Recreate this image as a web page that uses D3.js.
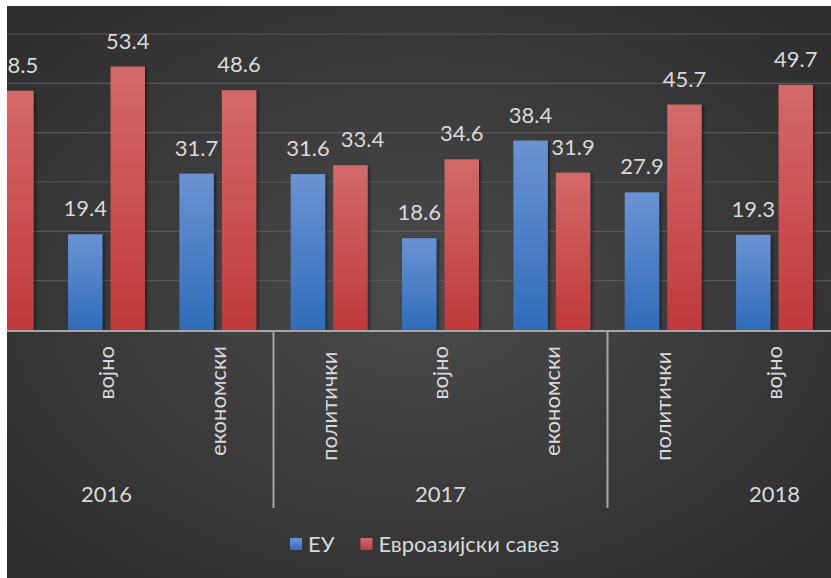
<!DOCTYPE html>
<html>
<head>
<meta charset="utf-8">
<script src="https://cdn.jsdelivr.net/npm/d3@7"></script>
<style>
  body { margin: 0; background: #fff; }
  text { font-family: Lato, "Open Sans", sans-serif; fill: #d9d9d9; }
</style>
</head>
<body>
<div id="chart"></div>
<script>
// chart is a crop of a wider Excel chart: first and last slots are mostly off the frame
const years = ["2016", "2017", "2018"];
const kinds = ["политички", "војно", "економски"];
const series = ["ЕУ", "Евроазијски савез"];
// values per year, in kinds order (null = not visible in the picture)
const euValues = [[null, 19.4, 31.7], [31.6, 18.6, 38.4], [27.9, 19.3, null]];
const eaValues = [[48.5, 53.4, 48.6], [33.4, 34.6, 31.9], [45.7, 49.7, null]];
const yTicks = [0, 10, 20, 30, 40, 50, 60];

const W = 831, H = 578;
const frame = {x: 7, y: 6, w: W - 7, h: H - 6};
const colors = {
  "ЕУ": ["#6b93d3", "#2f6cb9"],
  "Евроазијски савез": ["#d4696a", "#c0393a"]
};
// one label was dragged aside in the original to avoid its neighbour
const labelShift = {"2017|политички|Евроазијски савез": 12};

const slots = [];
years.forEach((yr, i) => kinds.forEach((k, j) => {
  slots.push({key: yr + "|" + k, year: yr, kind: k,
    values: [euValues[i][j], eaValues[i][j]]});
}));

const svg = d3.select("#chart").append("svg")
  .attr("width", W).attr("height", H);

const defs = svg.append("defs");
const bg = defs.append("radialGradient").attr("id", "bg")
  .attr("cx", "50%").attr("cy", "50%").attr("r", "65%");
bg.append("stop").attr("offset", "0%").attr("stop-color", "#4a4a4a");
bg.append("stop").attr("offset", "100%").attr("stop-color", "#2e2e2e");

series.forEach((s, i) => {
  const g = defs.append("linearGradient").attr("id", "bar" + i)
    .attr("x1", 0).attr("y1", 0).attr("x2", 0).attr("y2", 1);
  g.append("stop").attr("offset", "0%").attr("stop-color", colors[s][0]);
  g.append("stop").attr("offset", "100%").attr("stop-color", colors[s][1]);
});

defs.append("filter").attr("id", "shadow")
  .attr("x", "-20%").attr("y", "-20%").attr("width", "150%").attr("height", "150%")
  .append("feDropShadow")
  .attr("dx", 2).attr("dy", 1).attr("stdDeviation", 1.5)
  .attr("flood-color", "#000").attr("flood-opacity", 0.45);

defs.append("clipPath").attr("id", "frame").append("rect")
  .attr("x", frame.x).attr("y", frame.y).attr("width", frame.w).attr("height", frame.h);

const root = svg.append("g").attr("clip-path", "url(#frame)");
root.append("rect")
  .attr("x", frame.x).attr("y", frame.y).attr("width", frame.w).attr("height", frame.h)
  .attr("fill", "url(#bg)");

// scales
const x0 = d3.scaleBand().domain(slots.map(d => d.key)).range([-60.5, 941.5]);
const x1 = d3.scaleBand().domain(series)
  .range([17.2, x0.bandwidth() - 17.2]).paddingInner(0.19);
const y = d3.scaleLinear().domain([0, 60]).range([330, 34]);

// gridlines
root.append("g").selectAll("line")
  .data(yTicks.filter(t => t > 0))
  .join("line")
  .attr("x1", frame.x).attr("x2", W)
  .attr("y1", d => y(d)).attr("y2", d => y(d))
  .attr("stroke", "#575757").attr("stroke-width", 1.2);

// bars
const slotG = root.append("g").selectAll("g")
  .data(slots)
  .join("g")
  .attr("transform", d => `translate(${x0(d.key)},0)`);

const cells = slotG.selectAll("g")
  .data(d => d.values.map((v, i) => ({slot: d, s: series[i], i: i, v: v}))
    .filter(c => c.v != null))
  .join("g");

cells.append("rect")
  .attr("x", c => x1(c.s))
  .attr("width", x1.bandwidth())
  .attr("y", c => y(c.v))
  .attr("height", c => y(0) - y(c.v))
  .attr("fill", c => `url(#bar${c.i})`)
  .attr("filter", "url(#shadow)");

cells.append("text")
  .attr("x", c => x1(c.s) + x1.bandwidth() / 2 + (labelShift[c.slot.key + "|" + c.s] || 0))
  .attr("y", c => y(c.v) - 18)
  .attr("text-anchor", "middle")
  .attr("font-size", 22)
  .text(c => c.v.toFixed(1));

// category axis
const axisY = y(0) + 1;
root.append("line")
  .attr("x1", frame.x).attr("x2", W)
  .attr("y1", axisY).attr("y2", axisY)
  .attr("stroke", "#a6a6a6").attr("stroke-width", 2);

const yearBounds = years.map((yr, i) => x0(yr + "|" + kinds[0]));
yearBounds.push(x0(years[years.length - 1] + "|" + kinds[kinds.length - 1]) + x0.bandwidth());

root.append("g").selectAll("line")
  .data(yearBounds)
  .join("line")
  .attr("x1", d => d).attr("x2", d => d)
  .attr("y1", axisY).attr("y2", 508)
  .attr("stroke", "#a6a6a6").attr("stroke-width", 2);

// only the slot labels whose centre falls inside the frame show in the picture
const slotMid = d => x0(d.key) + x0.bandwidth() / 2;
root.append("g").selectAll("text")
  .data(slots.filter(d => slotMid(d) > frame.x && slotMid(d) < W))
  .join("text")
  .attr("transform", d => `translate(${slotMid(d)},346) rotate(-90)`)
  .attr("text-anchor", "end")
  .attr("dy", "0.35em")
  .attr("font-size", 22)
  .style("white-space", "pre")
  .text(d => d.kind === "политички" ? d.kind + " " : d.kind);

root.append("g").selectAll("text")
  .data(years)
  .join("text")
  .attr("x", (d, i) => (yearBounds[i] + yearBounds[i + 1]) / 2)
  .attr("y", 502)
  .attr("text-anchor", "middle")
  .attr("font-size", 22)
  .text(d => d);

// legend
const legend = root.append("g").attr("transform", "translate(290,544)");
let lx = 0;
series.forEach((s, i) => {
  const item = legend.append("g").attr("transform", `translate(${lx},0)`);
  item.append("rect").attr("x", 0).attr("y", -6).attr("width", 12).attr("height", 12)
    .attr("fill", `url(#bar${i})`);
  const t = item.append("text").attr("x", 18).attr("dy", "0.35em")
    .attr("font-size", 22).text(s);
  lx += 18 + t.node().getComputedTextLength() + 26;
});
</script>
</body>
</html>
